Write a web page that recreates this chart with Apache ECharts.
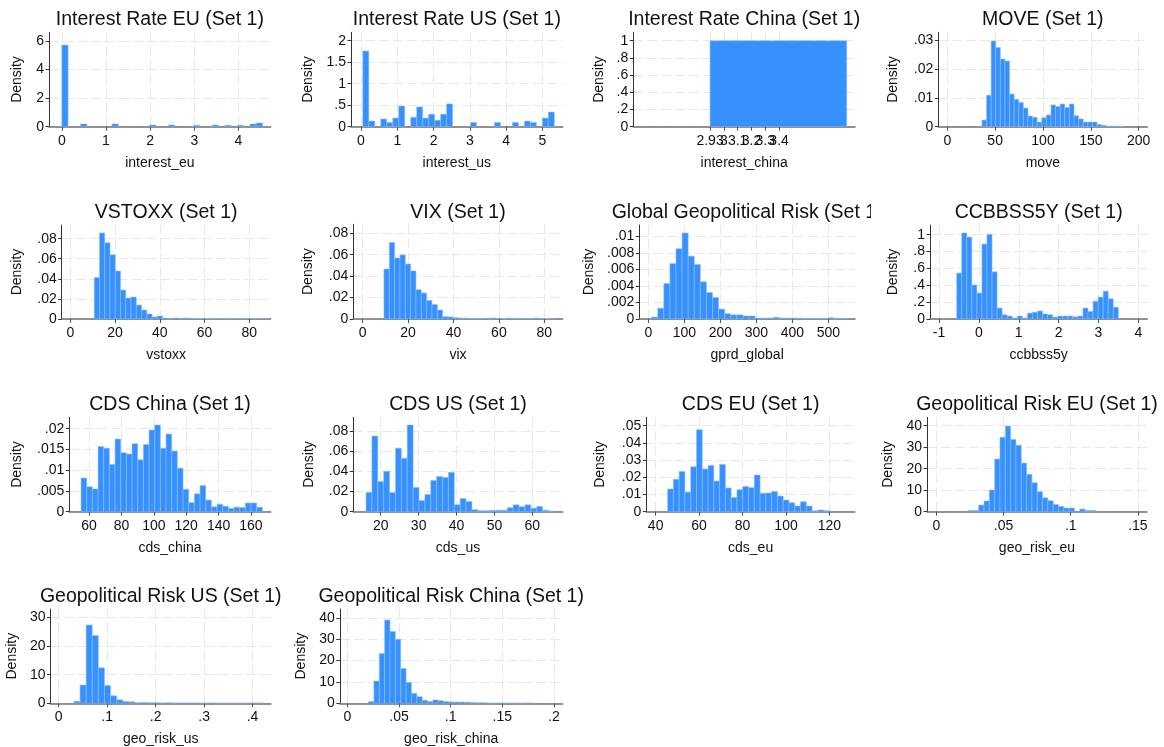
<!DOCTYPE html>
<html><head><meta charset="utf-8">
<script src="https://cdn.jsdelivr.net/npm/echarts@6/dist/echarts.min.js"></script>
<style>
body{margin:0;background:#fff;}
#wrap{position:relative;width:1164px;height:747px;overflow:hidden;background:#fff;}
.cell{position:absolute;overflow:hidden;}
</style>
</head><body><div id="wrap"></div>
<script>
// ---------------- DATA (densities per bin) ----------------
const titles = ['Interest Rate EU (Set 1)','Interest Rate US (Set 1)','Interest Rate China (Set 1)','MOVE (Set 1)',
  'VSTOXX (Set 1)','VIX (Set 1)','Global Geopolitical Risk (Set 1)','CCBBSS5Y (Set 1)',
  'CDS China (Set 1)','CDS US (Set 1)','CDS EU (Set 1)','Geopolitical Risk EU (Set 1)',
  'Geopolitical Risk US (Set 1)','Geopolitical Risk China (Set 1)'];
const xNames = ['interest_eu','interest_us','interest_china','move','vstoxx','vix','gprd_global','ccbbss5y',
  'cds_china','cds_us','cds_eu','geo_risk_eu','geo_risk_us','geo_risk_china'];

// bin start and bin width per variable
const binStart = [0, 0.05, 0, 36.2, 10.7, 9.4, 9.3, -0.557, 55.06, 16.13, 45.5, 0.0236, 0.0316, 0.0204];
const binWidth = [0.142, 0.165, 9.9, 4.81, 2.35, 2.35, 16.9, 0.1267, 3.5, 1.552, 2.66, 0.00396, 0.0126, 0.0052];

const interestEuDensity = [5.7,0,0,0.19,0,0,0,0,0.19,0,0,0,0,0,0.12,0,0,0.12,0,0,0,0.1,0,0,0.12,0,0.1,0,0.1,0,0.19,0.26];
const interestUsDensity = [1.76,0.13,0,0.18,0.1,0.2,0.48,0,0.22,0.46,0.2,0.29,0.15,0.29,0.53,0,0,0,0.1,0,0,0,0.1,0,0,0.1,0,0.13,0.1,0,0.2,0.34];
const interestChinaDensity = [1.0];
const moveDensity = [0.0023,0.011,0.0299,0.0276,0.0236,0.0229,0.0114,0.0095,0.0084,0.0065,0.0037,0.0033,0.0016,0.0031,0.0041,0.0076,0.007,0.0079,0.0067,0.0079,0.0038,0.0027,0.0016,0.0016,0.0016,0.0008,0.0005,0.0002,0.0002,0.0002,0.0001];
const vstoxxDensity = [0.0412,0.0857,0.076,0.064,0.0478,0.0289,0.0209,0.0219,0.0139,0.009,0.005,0.002,0.003,0.001,0.0007,0.001,0.0007,0.001,0.0007,0.0004,0.0003,0.0004,0.0002,0.0003,0.0003,0.0002,0.0002,0.0003,0.0002,0.0002,0.0003,0.0002,0.0003];
const vixDensity = [0.0467,0.0713,0.057,0.0598,0.0514,0.0449,0.0274,0.0243,0.0172,0.0135,0.0084,0.0022,0.0019,0.0012,0.0009,0.0009,0.0005,0.0004,0.0004,0.0007,0.001,0.0005,0.0004,0.0009,0.0004,0.0003,0.0003,0.0003,0.0009,0.0003,0.0003,0.0003];
const gprdGlobalDensity = [0.00024,0.0013,0.0043,0.0067,0.0085,0.0104,0.0076,0.0066,0.0045,0.0032,0.0026,0.0012,0.00065,0.0005,0.0005,0.00036,0.00036,0.00012,0.00012,0.00012,0.0002,0.00012,0.0001,0.00012,0.0001,0.00008,0.00008,0.00005,0.00005,0.00015,0.00008,0.00005];
const ccbbss5yDensity = [0.545,1.02,0.972,0.403,0.308,0.889,1.004,0.56,0.13,0.05,0.035,0.012,0.035,0.012,0.07,0.08,0.095,0.06,0.05,0.022,0.035,0.035,0.035,0.025,0.035,0.13,0.09,0.21,0.26,0.33,0.24,0.14];
const cdsChinaDensity = [0.0081,0.006,0.0055,0.0157,0.0153,0.0114,0.0175,0.0142,0.0139,0.0164,0.0125,0.0162,0.0197,0.0209,0.0153,0.0187,0.0146,0.0105,0.0054,0.0022,0.0043,0.0063,0.0028,0.0012,0.0018,0.0013,0.0008,0.0011,0.001,0.0021,0.0021,0.0011];
const cdsUsDensity = [0.019,0.075,0.030,0.040,0.019,0.063,0.053,0.086,0.024,0.011,0.017,0.031,0.035,0.034,0.039,0.007,0.013,0.010,0.002,0.001,0.001,0.0013,0.0015,0.0015,0.004,0.0068,0.005,0.0068,0.0035,0.0052,0.0015,0.0007];
const cdsEuDensity = [0.0132,0.0188,0.0234,0.0114,0.0262,0.0477,0.0248,0.0269,0.0178,0.0275,0.0138,0.0083,0.0128,0.0147,0.014,0.0213,0.0107,0.0109,0.0118,0.0091,0.0068,0.0052,0.0033,0.0058,0.0033,0.0006,0.001,0.0006];
const geoRiskEuDensity = [0.6,0.6,3.1,5.0,10.1,24.5,34.6,39.8,33.6,30.9,22.6,17.4,13.5,9.3,6.5,5.1,3.4,2.5,1.7,1.7,0,1.2,0.6,0.6];
const geoRiskUsDensity = [0.7,6.4,27.4,23.7,12.4,6.2,2.6,1.2,0.6,0.5,0.2,0.3,0.2,0.2,0.1,0.2,0.1,0.1,0.1,0.1,0.1,0.05,0.1,0.1,0.05,0.05,0.05,0.05,0.05,0.1,0.1];
const geoRiskChinaDensity = [0.8,10.4,23.3,38.9,33.6,29.9,16.3,9.8,4.7,3.1,1.4,0.8,1.6,1.2,0.8,0.6,0.6,0.6,0.5,0.4,0.2,0.2,0.15,0.1,0.1,0.1,0.1,0.05,0.05,0.1,0.05];
const densities = [interestEuDensity,interestUsDensity,interestChinaDensity,moveDensity,vstoxxDensity,vixDensity,
  gprdGlobalDensity,ccbbss5yDensity,cdsChinaDensity,cdsUsDensity,cdsEuDensity,geoRiskEuDensity,geoRiskUsDensity,geoRiskChinaDensity];

// tick values
const xTicks = [[0,1,2,3,4],[0,1,2,3,4,5],[0,1,2,3,4,5],[0,50,100,150,200],
  [0,20,40,60,80],[0,20,40,60,80],[0,100,200,300,400,500],[-1,0,1,2,3,4],
  [60,80,100,120,140,160],[20,30,40,50,60],[40,60,80,100,120],[0,0.05,0.1,0.15],
  [0,0.1,0.2,0.3,0.4],[0,0.05,0.1,0.15,0.2]];
const interestChinaTickLabels = ['2.93','3','3.1','3.2','3.3','3.4'];
const yTicks = [[0,2,4,6],[0,0.5,1,1.5,2],[0,0.2,0.4,0.6,0.8,1],[0,0.01,0.02,0.03],
  [0,0.02,0.04,0.06,0.08],[0,0.02,0.04,0.06,0.08],[0,0.002,0.004,0.006,0.008,0.01],[0,0.2,0.4,0.6,0.8,1],
  [0,0.005,0.01,0.015,0.02],[0,0.02,0.04,0.06,0.08],[0,0.01,0.02,0.03,0.04,0.05],[0,10,20,30,40],
  [0,10,20,30],[0,10,20,30,40]];
// axis ranges
const xRanges = [[-0.29,4.73],[-0.276,5.56],[-5.56,10.5],[-9.4,209],[-3.85,89.6],[-4.1,88.1],[-25,574],[-1.226,4.224],
  [47.8,172.2],[12.77,68.0],[35.7,131.7],[-0.0069,0.1567],[-0.0167,0.438],[-0.00746,0.2085]];
const yMaxes = [6.59,2.195,1.098,0.0329,0.0936,0.0884,0.01137,1.115,0.02275,0.0936,0.0549,43.9,33.0,44.1];

// ---------------- LAYOUT (page pixels: axis x, plot top, plot right, axis y, "Density" centre x) ----------------
const layout = [
  [49,32.3,270.7,126.7,16.7],[351,32.3,562.7,126.7,309],[633.3,32.3,855,126.7,600.7],[938.3,32.3,1147.3,126.7,892.7],
  [61.7,225,270.7,319,16.7],[353.3,224.3,562.7,319,308.3],[639.3,225,855,319,600.7],[930,225,1147.3,319,892.7],
  [69.3,417.3,270.7,511.7,16.7],[353.3,417.3,562.7,511.7,309],[646.3,417.3,854.9,511.7,600.5],[927.1,417.3,1146.9,511.7,891],
  [50.5,609,271,703.3,15.3],[339.8,609,562.6,703.3,306]
];
const colLeft = [0,290,580,871], colWidth = [300,300,291,293];
const rowTop = [0,193,385,577], rowHeight = [193,192,192,170];

const FONT = '"Liberation Sans", Arial, Helvetica, sans-serif';
const BAR = '#3690fd', EDGE = '#8cbfff', TXT = '#111';

function stataFmt(v){
  let s = String(parseFloat(Number(v).toFixed(6)));
  return s.replace(/^0\./,'.').replace(/^-0\./,'-.');
}
function renderItem(params, api){
  const p0 = api.coord([api.value(0), api.value(2)]);
  const p1 = api.coord([api.value(1), 0]);
  return {type:'rect', shape:{x:p0[0], y:p0[1], width:p1[0]-p0[0], height:p1[1]-p0[1]},
    style:{fill:BAR, stroke:EDGE, lineWidth:0.6}};
}

const wrap = document.getElementById('wrap');
for (let i = 0; i < titles.length; i++) {
  const col = i % 4, row = Math.floor(i / 4);
  const cl = colLeft[col], ct = rowTop[row];
  const div = document.createElement('div');
  div.className = 'cell';
  div.style.left = cl + 'px'; div.style.top = ct + 'px';
  div.style.width = colWidth[col] + 'px'; div.style.height = rowHeight[row] + 'px';
  wrap.appendChild(div);
  const [ax, ty, rx, ay, dx] = layout[i];
  const data = densities[i].map((d, k) => [binStart[i] + k * binWidth[i], binStart[i] + (k + 1) * binWidth[i], d]).filter(r => r[2] > 0);
  const isChina = (i === 2);
  const chart = echarts.init(div, null, {renderer:'canvas'});
  chart.setOption({
    animation:false,
    title:{text:titles[i], left:(ax + rx) / 2 - cl, top:10, textAlign:'center', padding:0,
      textStyle:{fontFamily:FONT, fontSize:19.5, fontWeight:'normal', color:TXT}},
    grid:{left:ax - cl, top:ty - ct, width:rx - ax, height:ay - ty, containLabel:false, outerBoundsMode:'none'},
    xAxis:{type:'value', min:xRanges[i][0], max:xRanges[i][1],
      name:xNames[i], nameLocation:'middle', nameGap:29,
      nameTextStyle:{fontFamily:FONT, fontSize:14, color:TXT},
      axisLine:{onZero:false, lineStyle:{color:'#707070', width:1.5}},
      axisTick:{customValues:xTicks[i], length:4, lineStyle:{color:'#555'}},
      axisLabel:{show:!isChina, customValues:xTicks[i], formatter:stataFmt, margin:7, fontFamily:FONT, fontSize:14, color:TXT,
        interval:0, hideOverlap:false, showMinLabel:true, showMaxLabel:true},
      splitLine:{show:true, lineStyle:{color:'#e8e8e8', width:1, type:[10,4]}}},
    yAxis:{type:'value', min:0, max:yMaxes[i],
      name:'Density', nameLocation:'middle', nameGap:ax - dx - 7,
      nameTextStyle:{fontFamily:FONT, fontSize:14, color:TXT},
      axisLine:{show:true, onZero:false, lineStyle:{color:'#333', width:1}},
      axisTick:{show:true, customValues:yTicks[i], length:3.5, lineStyle:{color:'#333'}},
      axisLabel:{customValues:yTicks[i], formatter:stataFmt, margin:5, fontFamily:FONT, fontSize:14, color:TXT,
        interval:0, hideOverlap:false, showMinLabel:true, showMaxLabel:true},
      splitLine:{show:true, lineStyle:{color:'#e8e8e8', width:1, type:[10,4]}}},
    series:[{type:'custom', renderItem:renderItem, data:data, encode:{x:[0,1], y:2}, clip:true}]
  });
  if (isChina) {
    // overlapping tick labels, placed through the axis scale
    const labelY = chart.convertToPixel({yAxisIndex:0}, 0) + 7;
    const texts = xTicks[2].map((t, k) => ({
      type:'text', x:chart.convertToPixel({xAxisIndex:0}, t), y:labelY, silent:true,
      style:{text:interestChinaTickLabels[k], fontFamily:FONT, fontSize:14, fill:TXT, align:'center', verticalAlign:'top'}
    }));
    chart.setOption({graphic:{elements:texts}});
  }
}
</script>
</body></html>
